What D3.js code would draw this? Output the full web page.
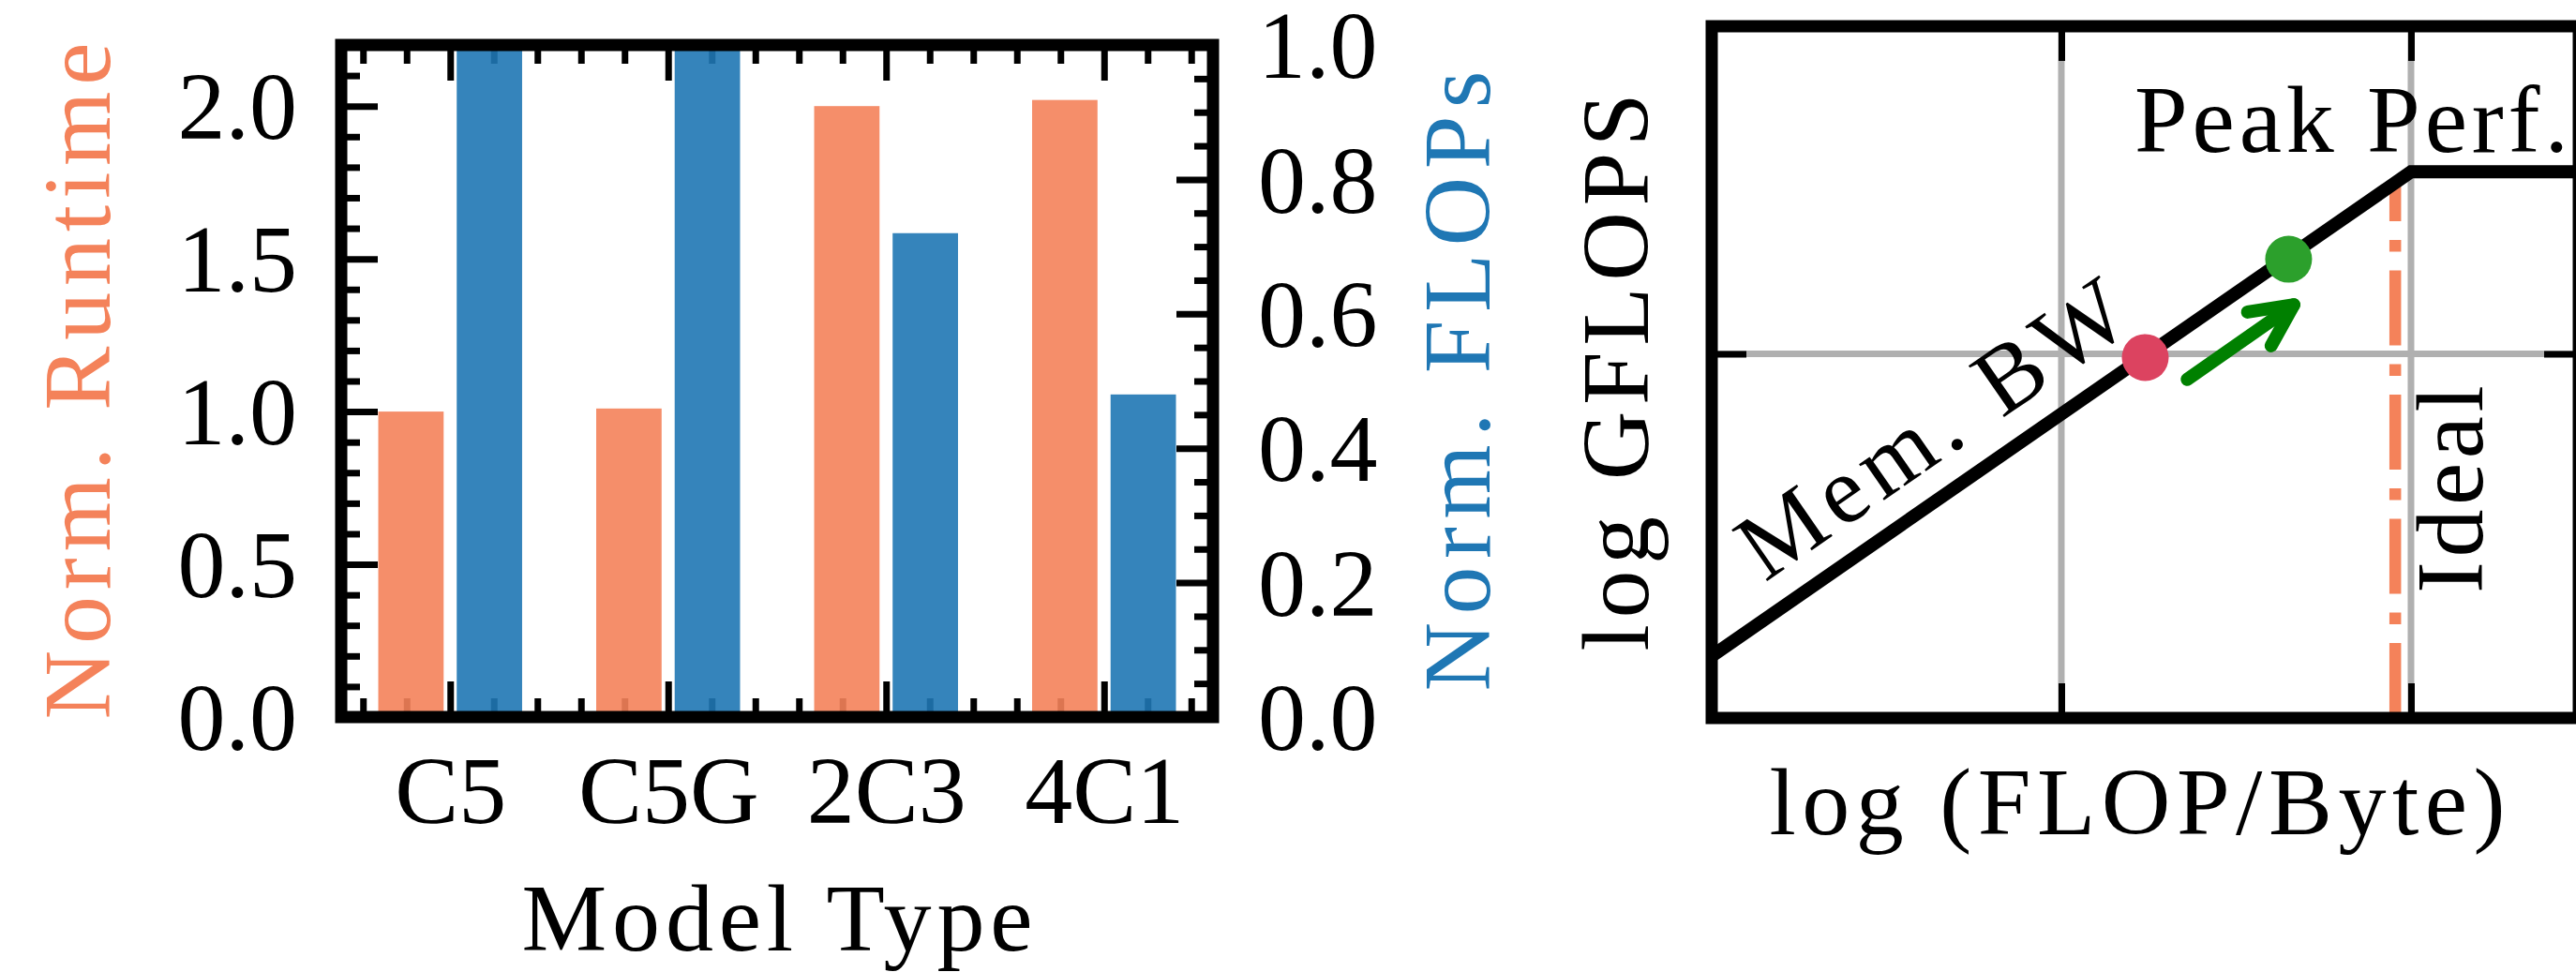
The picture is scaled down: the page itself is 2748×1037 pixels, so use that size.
<!DOCTYPE html>
<meta charset="utf-8">
<style>
body { margin: 0; background: #fff; }
svg { display: block; }
.tick line { stroke-width: 7px; }
</style>
<body>
<script src="https://cdn.jsdelivr.net/npm/d3@7"></script>
<script>

// ---- data: left panel (bars) ----
var categories = ["C5", "C5G", "2C3", "4C1"];
var runtime = [1.0, 1.01, 2.0, 2.02];      // left axis
var flops = [1.0, 1.0, 0.72, 0.48];         // right axis
var runtimeTicks = [0, 0.5, 1.0, 1.5, 2.0];
var flopTicks = [0, 0.2, 0.4, 0.6, 0.8, 1.0];

// ---- data: right panel (roofline sketch, arbitrary log units) ----
var roofX = [0, 2.0, 2.48];
var roofY = [0.17, 1.5, 1.5];
var pointX = [1.24, 1.65];
var pointY = [0.99, 1.26];
var pointColor = ["#dc4360", "#2ca02c"];
var arrowX = [1.36, 1.665];
var arrowY = [0.93, 1.135];
var idealX = 1.955, idealTop = 1.475;
var gridX = [1, 2], gridY = [1];

var orange = "#f4825a", blue = "#1f77b4";

var svg = d3.select("body").append("svg")
    .attr("width", 2748)
    .attr("height", 1037);

// ================= left panel =================
var L = {left: 364, right: 1294, top: 48, bottom: 765};

var x = d3.scaleLinear().domain([-0.5, 3.5]).range([L.left, L.right]);
var yL = d3.scaleLinear().domain([0, 2.2]).range([L.bottom, L.top]);
var yR = d3.scaleLinear().domain([0, 1.0]).range([L.bottom, L.top]);

var xMinor = d3.range(-0.4, 3.5, 0.2).filter(function(v) { return Math.abs(v - Math.round(v)) > 0.01; });
var yLMinor = d3.range(0, 2.21, 0.1).filter(function(v) { return Math.abs(v * 2 - Math.round(v * 2)) > 0.01; });
var yRMinor = d3.range(0, 1.001, 0.05).filter(function(v) { return Math.abs(v * 5 - Math.round(v * 5)) > 0.01; });

function styleAxis(g) {
  g.select(".domain").remove();
  g.attr("color", "#000").attr("font-size", null).attr("font-family", null);
}

// bottom / top ticks
svg.append("g")
    .attr("transform", "translate(0," + L.bottom + ")")
    .call(d3.axisBottom(x).tickValues([0, 1, 2, 3]).tickSize(-38)
      .tickFormat(function(d) { return categories[d]; }))
    .call(styleAxis)
    .call(function(g) { g.selectAll("text").attr("y", 113).attr("dy", 0); });
svg.append("g")
    .attr("transform", "translate(0," + L.bottom + ")")
    .call(d3.axisBottom(x).tickValues(xMinor).tickSize(-20).tickFormat(""))
    .call(styleAxis);
svg.append("g")
    .attr("transform", "translate(0," + L.top + ")")
    .call(d3.axisTop(x).tickValues([0, 1, 2, 3]).tickSize(-38).tickFormat(""))
    .call(styleAxis);
svg.append("g")
    .attr("transform", "translate(0," + L.top + ")")
    .call(d3.axisTop(x).tickValues(xMinor).tickSize(-20).tickFormat(""))
    .call(styleAxis);

// left ticks
svg.append("g")
    .attr("transform", "translate(" + L.left + ",0)")
    .call(d3.axisLeft(yL).tickValues(runtimeTicks).tickSize(-39).tickPadding(47)
      .tickFormat(d3.format(".1f")))
    .call(styleAxis)
    .call(function(g) { g.selectAll("text").attr("dy", "0.34em"); });
svg.append("g")
    .attr("transform", "translate(" + L.left + ",0)")
    .call(d3.axisLeft(yL).tickValues(yLMinor).tickSize(-20).tickFormat(""))
    .call(styleAxis);

// right ticks
svg.append("g")
    .attr("transform", "translate(" + L.right + ",0)")
    .call(d3.axisRight(yR).tickValues(flopTicks).tickSize(-39).tickPadding(48)
      .tickFormat(d3.format(".1f")))
    .call(styleAxis)
    .call(function(g) { g.selectAll("text").attr("dy", "0.34em"); });
svg.append("g")
    .attr("transform", "translate(" + L.right + ",0)")
    .call(d3.axisRight(yR).tickValues(yRMinor).tickSize(-20).tickFormat(""))
    .call(styleAxis);

// bars (drawn over ticks, slightly transparent)
var barW = 0.3, off = 0.18;
svg.append("g").selectAll("rect")
    .data(runtime)
  .enter().append("rect")
    .attr("x", function(d, i) { return x(i - off - barW / 2); })
    .attr("width", x(barW) - x(0))
    .attr("y", function(d) { return yL(d); })
    .attr("height", function(d) { return yL(0) - yL(d); })
    .attr("fill", orange)
    .attr("fill-opacity", 0.9);
svg.append("g").selectAll("rect")
    .data(flops)
  .enter().append("rect")
    .attr("x", function(d, i) { return x(i + off - barW / 2); })
    .attr("width", x(barW) - x(0))
    .attr("y", function(d) { return yR(d); })
    .attr("height", function(d) { return yR(0) - yR(d); })
    .attr("fill", blue)
    .attr("fill-opacity", 0.9);

svg.append("rect")
    .attr("x", L.left).attr("y", L.top)
    .attr("width", L.right - L.left).attr("height", L.bottom - L.top)
    .attr("fill", "none").attr("stroke", "#000").attr("stroke-width", 13);

// labels
svg.append("text")
    .attr("x", (L.left + L.right) / 2).attr("y", 1014)
    .attr("text-anchor", "middle")
    .attr("textLength", 545)
    .text("Model Type");
svg.append("text")
    .attr("transform", "translate(117," + (L.top + L.bottom) / 2 + ") rotate(-90)")
    .attr("text-anchor", "middle")
    .attr("textLength", 722)
    .style("fill", orange)
    .text("Norm. Runtime");
svg.append("text")
    .attr("transform", "translate(1589," + (L.top + L.bottom) / 2 + ") rotate(-90)")
    .attr("text-anchor", "middle")
    .attr("textLength", 662)
    .style("fill", blue)
    .text("Norm. FLOPs");

// ================= right panel =================
var R = {left: 1826, right: 2751, top: 28, bottom: 766};
var rx = d3.scaleLinear().domain([0, 2.48]).range([R.left, R.right]);
var ry = d3.scaleLinear().domain([0, 1.9]).range([R.bottom, R.top]);

// grid
svg.append("g").selectAll("line")
    .data(gridX)
  .enter().append("line")
    .attr("x1", rx).attr("x2", rx)
    .attr("y1", R.top).attr("y2", R.bottom)
    .attr("stroke", "#b0b0b0").attr("stroke-width", 7);
svg.append("g").selectAll("line")
    .data(gridY)
  .enter().append("line")
    .attr("y1", ry).attr("y2", ry)
    .attr("x1", R.left).attr("x2", R.right)
    .attr("stroke", "#b0b0b0").attr("stroke-width", 7);

// ticks
svg.append("g").attr("transform", "translate(0," + R.bottom + ")")
    .call(d3.axisBottom(rx).tickValues(gridX).tickSize(-37).tickFormat("")).call(styleAxis);
svg.append("g").attr("transform", "translate(0," + R.top + ")")
    .call(d3.axisTop(rx).tickValues(gridX).tickSize(-37).tickFormat("")).call(styleAxis);
svg.append("g").attr("transform", "translate(" + R.left + ",0)")
    .call(d3.axisLeft(ry).tickValues(gridY).tickSize(-37).tickFormat("")).call(styleAxis);
svg.append("g").attr("transform", "translate(" + R.right + ",0)")
    .call(d3.axisRight(ry).tickValues(gridY).tickSize(-37).tickFormat("")).call(styleAxis);

// ideal (dash-dot)
svg.append("line")
    .attr("x1", rx(idealX)).attr("x2", rx(idealX))
    .attr("y1", ry(0)).attr("y2", ry(idealTop))
    .attr("stroke", orange).attr("stroke-width", 12.5)
    .attr("stroke-dasharray", "80,20,12.5,20");

// roofline
var roof = d3.line()
    .x(function(d, i) { return rx(roofX[i]); })
    .y(function(d, i) { return ry(roofY[i]); });
svg.append("path")
    .datum(roofX)
    .attr("d", roof)
    .attr("fill", "none").attr("stroke", "#000").attr("stroke-width", 14)
    .attr("stroke-linejoin", "miter");

// arrow
var ax0 = rx(arrowX[0]), ay0 = ry(arrowY[0]), ax1 = rx(arrowX[1]), ay1 = ry(arrowY[1]);
var ang = Math.atan2(ay0 - ay1, ax0 - ax1), head = 50, spread = 26 * Math.PI / 180;
svg.append("line")
    .attr("x1", ax0).attr("y1", ay0).attr("x2", ax1).attr("y2", ay1)
    .attr("stroke", "green").attr("stroke-width", 14).attr("stroke-linecap", "round");
svg.append("path")
    .attr("d", "M" + (ax1 + head * Math.cos(ang + spread)) + "," + (ay1 + head * Math.sin(ang + spread)) +
      "L" + ax1 + "," + ay1 +
      "L" + (ax1 + head * Math.cos(ang - spread)) + "," + (ay1 + head * Math.sin(ang - spread)))
    .attr("fill", "none").attr("stroke", "green").attr("stroke-width", 14)
    .attr("stroke-linecap", "round").attr("stroke-linejoin", "round");

// points
svg.append("g").selectAll("circle")
    .data(pointX)
  .enter().append("circle")
    .attr("cx", function(d) { return rx(d); })
    .attr("cy", function(d, i) { return ry(pointY[i]); })
    .attr("r", 25)
    .attr("fill", function(d, i) { return pointColor[i]; });

// frame
svg.append("rect")
    .attr("x", R.left).attr("y", R.top)
    .attr("width", R.right - R.left).attr("height", R.bottom - R.top)
    .attr("fill", "none").attr("stroke", "#000").attr("stroke-width", 13);

// annotations
var slope = Math.atan2(ry(roofY[1]) - ry(roofY[0]), rx(roofX[1]) - rx(roofX[0])) * 180 / Math.PI;
svg.append("text")
    .attr("transform", "translate(" + rx(0.681) + "," + ry(0.723) + ") rotate(" + slope + ")")
    .attr("text-anchor", "middle")
    .attr("textLength", 480)
    .text("Mem. BW");
svg.append("text")
    .attr("x", rx(1.209)).attr("y", ry(1.555))
    .attr("textLength", 463)
    .text("Peak Perf.");
svg.append("text")
    .attr("transform", "translate(" + rx(2.204) + "," + ry(0.628) + ") rotate(-90)")
    .attr("text-anchor", "middle")
    .attr("textLength", 222)
    .text("Ideal");

svg.append("text")
    .attr("x", 2280).attr("y", 890)
    .attr("text-anchor", "middle")
    .attr("textLength", 785)
    .text("log (FLOP/Byte)");
svg.append("text")
    .attr("transform", "translate(1758," + (R.top + R.bottom) / 2 + ") rotate(-90)")
    .attr("text-anchor", "middle")
    .attr("textLength", 595)
    .text("log GFLOPS");

// one font for every text, like the LaTeX original
svg.selectAll("text")
    .style("font-family", '"Liberation Serif"')
    .style("font-size", "102px");
svg.selectAll("text:not([style*='fill'])").style("fill", "#000");

</script>
</body>
